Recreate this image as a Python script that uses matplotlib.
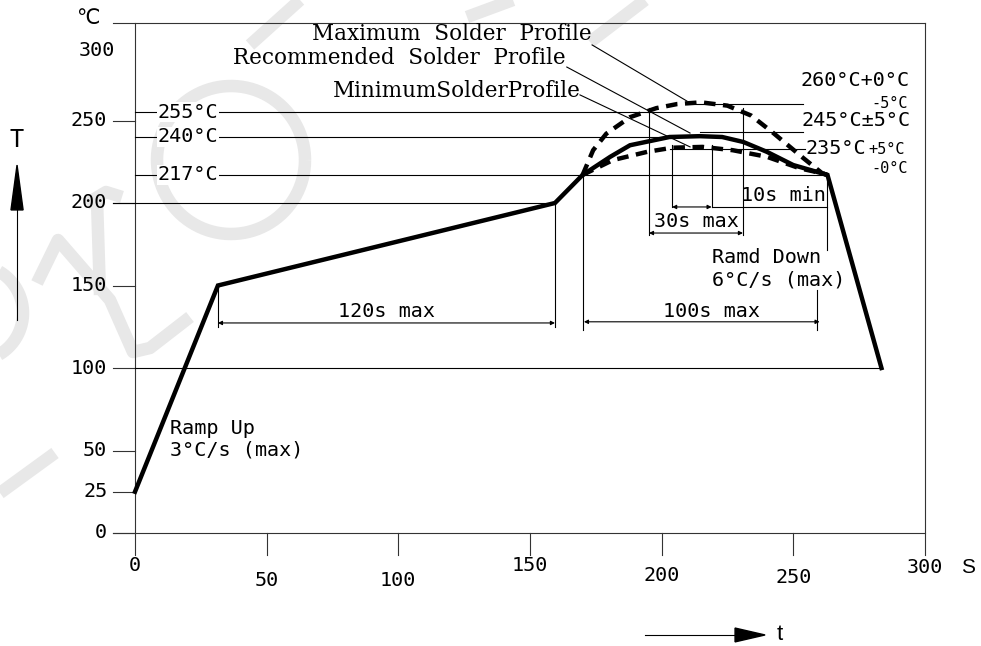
"""
Reflow solder profile drawing (temperature vs time)
"""

import numpy as np
import matplotlib
matplotlib.use("Agg")
import matplotlib.pyplot as plt
from matplotlib.patches import Polygon

# ---- data (seconds, degC) ----
rec_t = [0, 31.5, 159.5, 170, 180.5, 188, 203, 214.5, 223, 231, 240, 250, 263, 283.5]
rec_T = [25, 150, 200, 217, 228, 235, 240, 240.5, 240, 237, 231, 223, 217, 100]

max_t = [170, 174, 179, 188, 198, 206, 215, 225, 234, 242, 254, 261, 263]
max_T = [217, 232, 242, 252, 257.5, 260, 261, 259, 253, 243, 227, 218, 217]

min_t = [170, 181.5, 194.5, 204, 215.5, 227, 240, 252.5, 261, 263]
min_T = [217, 226, 231, 233.5, 234, 232, 228, 221, 218, 217]

y_ticks = [0, 25, 50, 100, 150, 200, 250]
y_labels = ["0", "25", "50", "100", "150", "200", "250"]
x_ticks = [0, 50, 100, 150, 200, 250, 300]
x_labels = ["0", "50", "100", "150", "200", "250", "300"]

ref_levels = [255, 240, 217]
ref_labels = ["255°C", "240°C", "217°C"]
ref_ends = [231, 201, 263]

# pixel geometry of the sheet (981x646)
PX0, PX_PER_S = 135, 2.633
PY0, PY_PER_C = 533, 1.65
W, H = 981, 646

INK = "black"
THIN = 0.8
CAD = "DejaVu Sans Mono"
SERIF = "DejaVu Serif"
FS = 14.5

fig = plt.figure(figsize=(W / 100, H / 100), dpi=100)
ax = fig.add_axes([0, 0, 1, 1])
ax.set_xlim(-PX0 / PX_PER_S, (W - PX0) / PX_PER_S)
ax.set_ylim((PY0 - H) / PY_PER_C, PY0 / PY_PER_C)
ax.axis("off")


def to_data(px, py):
    return (np.asarray(px) - PX0) / PX_PER_S, (PY0 - np.asarray(py)) / PY_PER_C


# faint watermark strokes behind the drawing
wm = dict(color="#e8e8e8", lw=9, zorder=0, solid_capstyle="butt")
th = np.linspace(0, 2 * np.pi, 200)
ax.plot(*to_data(231 + 74 * np.cos(th), 160 + 74 * np.sin(th)), **wm)
arc = np.linspace(-1.1, 1.1, 60)
ax.plot(*to_data(-25 + 48 * np.cos(arc), 313 + 48 * np.sin(arc)), **wm)
ax.plot(*to_data([37, 58, 110, 133, 150, 190], [283, 240, 300, 352, 348, 317]), **wm)
ax.plot(*to_data([86, 106, 122], [204, 192, 197]), **wm)
ax.plot(*to_data([97, 100], [200, 295]), **wm)
ax.plot(*to_data([0, 55], [493, 453]), **wm)
ax.plot(*to_data([250, 300], [45, 0]), **wm)
ax.plot(*to_data([467, 513], [17, 0]), **wm)
ax.plot(*to_data([590, 645], [42, 0]), **wm)

tick_lo = -8.4     # left end of y ticks
tick_dn = -13.3    # lower end of x ticks
top = 309

# frame
ax.plot([0, 0], [tick_dn, top], color="#333", lw=THIN)
ax.plot([300, 300], [tick_dn, top], color="#333", lw=THIN)
ax.plot([tick_lo, 300], [top, top], color="#333", lw=THIN)
ax.plot([tick_lo, 300], [0, 0], color="#333", lw=THIN)
for v in y_ticks:
    ax.plot([tick_lo, 0], [v, v], color="#333", lw=THIN)
for v in x_ticks[1:-1]:
    ax.plot([v, v], [0, tick_dn], color="#333", lw=THIN)

# tick labels
for v, lab in zip(y_ticks, y_labels):
    ax.text(-10.5, v, lab, ha="right", va="center", fontsize=FS, family=CAD)
ax.text(-7.6, 292.7, "300", ha="right", va="center", fontsize=FS, family=CAD)
ax.text(-18, 312, "℃", ha="center", va="center", fontsize=15, family="DejaVu Sans")

x_drop = [-19.4, -28.5, -28.5, -19.4, -25.5, -26.7, -21]
for v, lab, d in zip(x_ticks, x_labels, x_drop):
    ax.text(v, d, lab, ha="center", va="center", fontsize=FS, family=CAD)
ax.text(316.4, -21.2, "S", ha="center", va="center", fontsize=15, family="Liberation Sans")

# axis arrows
ax.plot([-44.8, -44.8], [129, 200], color=INK, lw=THIN)
ax.add_patch(Polygon([[-47.1, 195.8], [-42.5, 195.8], [-44.8, 223]], closed=True, color=INK))
ax.text(-44.8, 238, "T", ha="center", va="center", fontsize=17, family=CAD)
ax.plot([193.7, 229], [-61.8, -61.8], color=INK, lw=THIN)
ax.add_patch(Polygon([[227.9, -57.6], [227.9, -66.0], [239.3, -61.8]], closed=True, color=INK))
ax.text(245, -61.8, "t", ha="center", va="center", fontsize=16, family="Liberation Sans")

# reference lines
ax.plot([0, 283.5], [100, 100], color=INK, lw=THIN)
ax.plot([tick_lo, 159.5], [200, 200], color=INK, lw=THIN)
for lev, lab, end in zip(ref_levels, ref_labels, ref_ends):
    ax.plot([0, end], [lev, lev], color=INK, lw=THIN)
    ax.text(8.6, lev, lab, ha="left", va="center", fontsize=FS, family=CAD,
            bbox=dict(facecolor="white", edgecolor="none", pad=0.5))

# peak tolerance lines
ax.plot([209.6, 253.7], [260, 260], color=INK, lw=THIN)
ax.plot([214.6, 253.7], [243, 243], color=INK, lw=THIN)
ax.plot([203.2, 254.5], [233, 233], color=INK, lw=THIN)
ax.text(252.6, 274.5, "260°C+0°C", ha="left", va="center", fontsize=FS, family=CAD)
ax.text(293.6, 260.6, "-5°C", ha="right", va="center", fontsize=11, family=CAD)
ax.text(253.3, 250.3, "245°C±5°C", ha="left", va="center", fontsize=FS, family=CAD)
ax.text(254.5, 233.3, "235°C", ha="left", va="center", fontsize=FS, family=CAD)
ax.text(278.5, 232.5, "+5°C", ha="left", va="center", fontsize=11, family=CAD)
ax.text(293.6, 221.2, "-0°C", ha="right", va="center", fontsize=11, family=CAD)


# dimension lines
def dim(x0, x1, y):
    ax.annotate("", xy=(x0, y), xytext=(x1, y),
                arrowprops=dict(arrowstyle="<|-|>", lw=THIN, color=INK,
                                mutation_scale=6, shrinkA=0, shrinkB=0))


ax.plot([31.5, 31.5], [150, 124.8], color=INK, lw=THIN)
ax.plot([159.5, 159.5], [200, 124.8], color=INK, lw=THIN)
dim(31.5, 159.5, 127.3)
ax.text(95.5, 134, "120s max", ha="center", va="center", fontsize=FS, family=CAD)

ax.plot([170, 170], [217, 123], color=INK, lw=THIN)
ax.plot([259, 259], [147, 123], color=INK, lw=THIN)
ax.plot([263, 263], [217, 171.5], color=INK, lw=THIN)
dim(170.5, 260, 128)
ax.text(218.8, 134, "100s max", ha="center", va="center", fontsize=FS, family=CAD)

ax.plot([195.2, 195.2], [257.6, 180.6], color=INK, lw=THIN)
ax.plot([230.9, 230.9], [257.6, 180.6], color=INK, lw=THIN)
dim(195.2, 230.9, 181.8)
ax.text(213.1, 188.5, "30s max", ha="center", va="center", fontsize=FS, family=CAD)

ax.plot([204, 204], [235, 197.6], color=INK, lw=THIN)
ax.plot([219, 219], [235, 197.6], color=INK, lw=THIN)
dim(204, 219, 197.6)
ax.plot([219, 263], [197.6, 197.6], color=INK, lw=THIN)
ax.text(246.1, 204.8, "10s min", ha="center", va="center", fontsize=FS, family=CAD)

# ramp notes
ax.text(13.3, 63.6, "Ramp Up", ha="left", va="center", fontsize=FS, family=CAD)
ax.text(13.3, 50.3, "3°C/s (max)", ha="left", va="center", fontsize=FS, family=CAD)
ax.text(219.1, 166.7, "Ramd Down", ha="left", va="center", fontsize=FS, family=CAD)
ax.text(219.1, 153.3, "6°C/s (max)", ha="left", va="center", fontsize=FS, family=CAD)

# profile names + leaders
ax.text(120.4, 302.4, "Maximum  Solder  Profile", ha="center", va="center",
        fontsize=15.5, family=SERIF)
ax.text(100.3, 287.9, "Recommended  Solder  Profile", ha="center", va="center",
        fontsize=15.5, family=SERIF)
ax.text(122.3, 267.9, "MinimumSolderProfile", ha="center", va="center",
        fontsize=15.5, family=SERIF)
ax.plot([173.6, 209.6], [295.8, 261.8], color=INK, lw=THIN)
ax.plot([164, 210.8], [282.4, 242.4], color=INK, lw=THIN)
ax.plot([169, 210.8], [265.5, 234], color=INK, lw=THIN)

# profiles
ax.plot(rec_t, rec_T, color=INK, lw=3.2, solid_joinstyle="miter")
ax.plot(max_t, max_T, color=INK, lw=3.2, dashes=(2.6, 1.7))
ax.plot(min_t, min_T, color=INK, lw=3.2, dashes=(2.6, 1.7))

fig.savefig("out.png", dpi=100)
